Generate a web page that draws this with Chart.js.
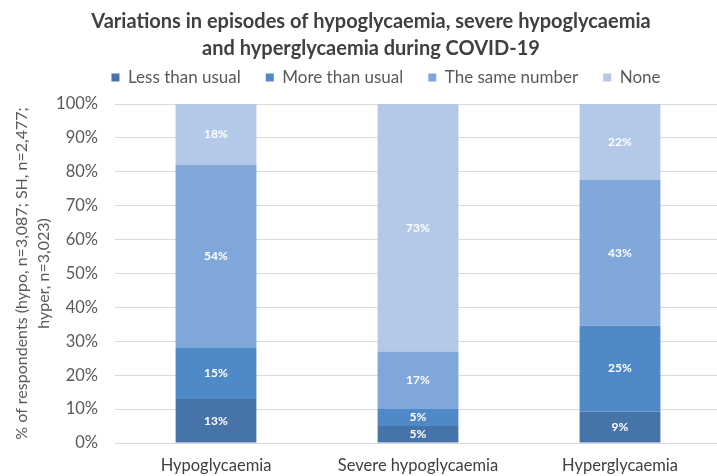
<!DOCTYPE html>
<html>
<head>
<meta charset="utf-8">
<script src="https://cdn.jsdelivr.net/npm/chart.js@4.4.1/dist/chart.umd.min.js"></script>
<style>
html,body{margin:0;padding:0;background:#fff;overflow:hidden}
#wrap{width:717px;height:476px;overflow:hidden;position:relative}
canvas{display:block}
</style>
</head>
<body>
<div id="wrap"><canvas id="c" width="772" height="476" style="width:772px;height:476px"></canvas></div>
<script>
// ---- data ----
const categories = ['Hypoglycaemia', 'Severe hypoglycaemia', 'Hyperglycaemia'];
const seriesNames = ['Less than usual', 'More than usual', 'The same number', 'None'];
const lessThanUsual = [13, 5, 9.3];
const moreThanUsual = [15, 5, 25.3];
const sameNumber = [54, 17, 43];
const noneValues = [18, 73, 22.4];
const yTickValues = [0, 10, 20, 30, 40, 50, 60, 70, 80, 90, 100];
const titleLines = ['Variations in episodes of hypoglycaemia, severe hypoglycaemia', 'and hyperglycaemia during COVID-19'];
const yTitleLines = ['% of respondents (hypo, n=3,087; SH, n=2,477;', 'hyper, n=3,023)'];

const colors = ['#4674a8', '#4f89c7', '#80a7d9', '#b4c8e7'];
const FONT = 'Lato';

const seriesValues = [lessThanUsual, moreThanUsual, sameNumber, noneValues];

// centre title and legend over the full (uncropped) chart width, lift legend row
const headerPlacement = {
  id: 'headerPlacement',
  afterLayout(chart) {
    const t = chart.titleBlock;
    if (t) { t.left = 0; t.right = 742; t.width = 742; }
    const lg = chart.legend;
    if (lg) {
      lg.left = 0; lg.right = 772; lg.width = 772;
      lg.top -= 8; lg.bottom -= 8;
    }
  }
};

const valueLabels = {
  id: 'valueLabels',
  afterDatasetsDraw(chart) {
    const ctx = chart.ctx;
    ctx.save();
    ctx.font = 'bold 12px ' + FONT;
    ctx.fillStyle = '#ffffff';
    ctx.textAlign = 'center';
    ctx.textBaseline = 'middle';
    chart.data.datasets.forEach((ds, di) => {
      const meta = chart.getDatasetMeta(di);
      meta.data.forEach((el, i) => {
        const v = ds.data[i];
        const p = el.getCenterPoint();
        ctx.fillText(Math.round(v) + '%', p.x, p.y);
      });
    });
    ctx.restore();
  }
};

new Chart(document.getElementById('c'), {
  type: 'bar',
  data: {
    labels: categories,
    datasets: seriesNames.map((n, i) => ({
      label: n,
      data: seriesValues[i],
      backgroundColor: colors[i],
      borderWidth: 0,
      categoryPercentage: 1,
      barPercentage: 0.4
    }))
  },
  options: {
    responsive: false,
    animation: false,
    devicePixelRatio: 1,
    layout: { padding: { left: 0, right: 0, top: 0, bottom: 0 } },
    plugins: {
      tooltip: { enabled: false },
      title: {
        display: true,
        text: titleLines,
        color: '#404040',
        font: { family: FONT, size: 20, weight: 'bold', lineHeight: 1.35 },
        padding: { top: 8.5, bottom: -10.5 }
      },
      legend: {
        display: true,
        position: 'top',
        labels: {
          color: '#595959',
          font: { family: FONT, size: 17 },
          boxWidth: 8,
          boxHeight: 8,
          padding: 25
        }
      }
    },
    scales: {
      x: {
        stacked: true,
        grid: { display: false, drawTicks: false },
        border: { display: false },
        ticks: { color: '#404040', font: { family: FONT, size: 16.5 }, padding: 13, maxRotation: 0 },
        afterFit(s) { s.height = 33; }
      },
      y: {
        stacked: true,
        min: 0,
        max: 100,
        afterBuildTicks(s) { s.ticks = yTickValues.map(v => ({ value: v })); },
        grid: { color: '#d9d9d9', lineWidth: 1, drawTicks: false },
        border: { display: false },
        ticks: { color: '#595959', font: { family: FONT, size: 16.5 }, padding: 17, callback: v => v + '%' },
        title: {
          display: true,
          text: yTitleLines,
          color: '#595959',
          font: { family: FONT, size: 16, lineHeight: 1.35 },
          padding: { top: 11, bottom: 0 }
        },
        afterFit(s) { s.width = 115; }
      },
      yRight: {
        type: 'linear',
        position: 'right',
        display: true,
        grid: { display: false, drawTicks: false },
        border: { display: false },
        ticks: { display: false },
        afterFit(s) { s.width = 51; }
      }
    }
  },
  plugins: [headerPlacement, valueLabels]
});
</script>
</body>
</html>
